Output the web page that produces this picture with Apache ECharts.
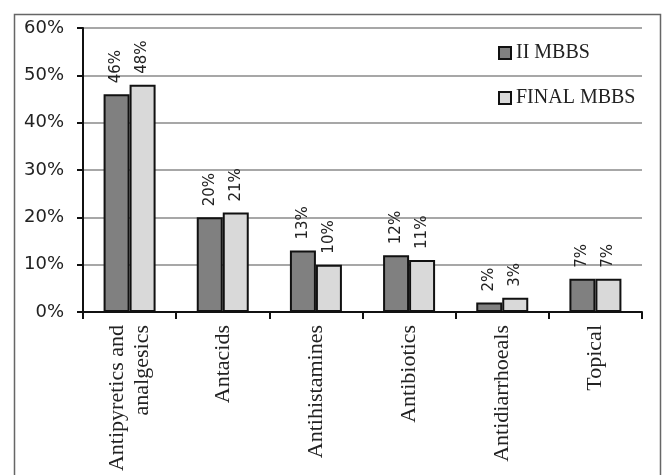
<!DOCTYPE html>
<html>
<head>
<meta charset="utf-8">
<script src="https://cdn.jsdelivr.net/npm/echarts@6/dist/echarts.min.js"></script>
<style>
  html, body { margin: 0; padding: 0; background: #fff; }
  #chart { width: 663px; height: 475px; }
</style>
</head>
<body>
<div id="chart"></div>
<script>
// Drug classes on the x axis
const categories = [
  'Antipyretics and\nanalgesics',
  'Antacids',
  'Antihistamines',
  'Antibiotics',
  'Antidiarrhoeals',
  'Topical'
];

// Percentage of students per drug class
const secondMbbs = [46, 20, 13, 12, 2, 7];
const finalMbbs = [48, 21, 10, 11, 3, 7];

const seriesNames = ['II MBBS', 'FINAL MBBS'];
const yTicks = { min: 0, max: 60, interval: 10 };

const chart = echarts.init(document.getElementById('chart'), null, { renderer: 'canvas' });

const valueLabel = {
  show: true,
  position: 'top',
  rotate: 90,
  align: 'left',
  verticalAlign: 'middle',
  distance: 11,
  formatter: '{c}%',
  fontFamily: 'DejaVu Sans',
  fontSize: 15,
  color: '#222'
};

chart.setOption({
  backgroundColor: '#fff',
  animation: false,
  graphic: [{
    type: 'rect',
    left: 12,
    top: 12,
    shape: { width: 646, height: 470 },
    style: { fill: 'none', stroke: '#666', lineWidth: 1.5 },
    silent: true,
    z: -1
  }],
  grid: { left: 83, top: 28, right: 21, bottom: 163 },
  legend: {
    orient: 'vertical',
    left: 493,
    top: 38,
    itemWidth: 12,
    itemHeight: 12,
    itemGap: 25,
    icon: 'rect',
    textStyle: { fontFamily: 'Liberation Serif', fontSize: 20, color: '#222', lineHeight: 20 },
    data: seriesNames
  },
  xAxis: {
    type: 'category',
    data: categories,
    boundaryGap: true,
    axisLine: { lineStyle: { color: '#111', width: 2 } },
    axisTick: { show: true, length: 7, lineStyle: { color: '#111', width: 2 } },
    axisLabel: {
      rotate: 90,
      interval: 0,
      margin: 13,
      fontFamily: 'Liberation Serif',
      fontSize: 22,
      lineHeight: 25,
      color: '#222'
    }
  },
  yAxis: {
    type: 'value',
    min: yTicks.min,
    max: yTicks.max,
    interval: yTicks.interval,
    axisLine: { show: true, lineStyle: { color: '#111', width: 2 } },
    axisTick: { show: true, length: 6, lineStyle: { color: '#111', width: 2 } },
    axisLabel: {
      formatter: '{value}%',
      margin: 19,
      fontFamily: 'DejaVu Sans',
      fontSize: 18,
      color: '#222'
    },
    splitLine: { lineStyle: { color: '#8a8a8a', width: 1.5 } }
  },
  series: [
    {
      name: seriesNames[0],
      type: 'bar',
      data: secondMbbs,
      barWidth: 26,
      barGap: '0%',
      itemStyle: { color: '#808080', borderColor: '#111', borderWidth: 2 },
      label: valueLabel
    },
    {
      name: seriesNames[1],
      type: 'bar',
      data: finalMbbs,
      barWidth: 26,
      barGap: '0%',
      itemStyle: { color: '#d9d9d9', borderColor: '#111', borderWidth: 2 },
      label: valueLabel
    }
  ]
});
</script>
</body>
</html>
